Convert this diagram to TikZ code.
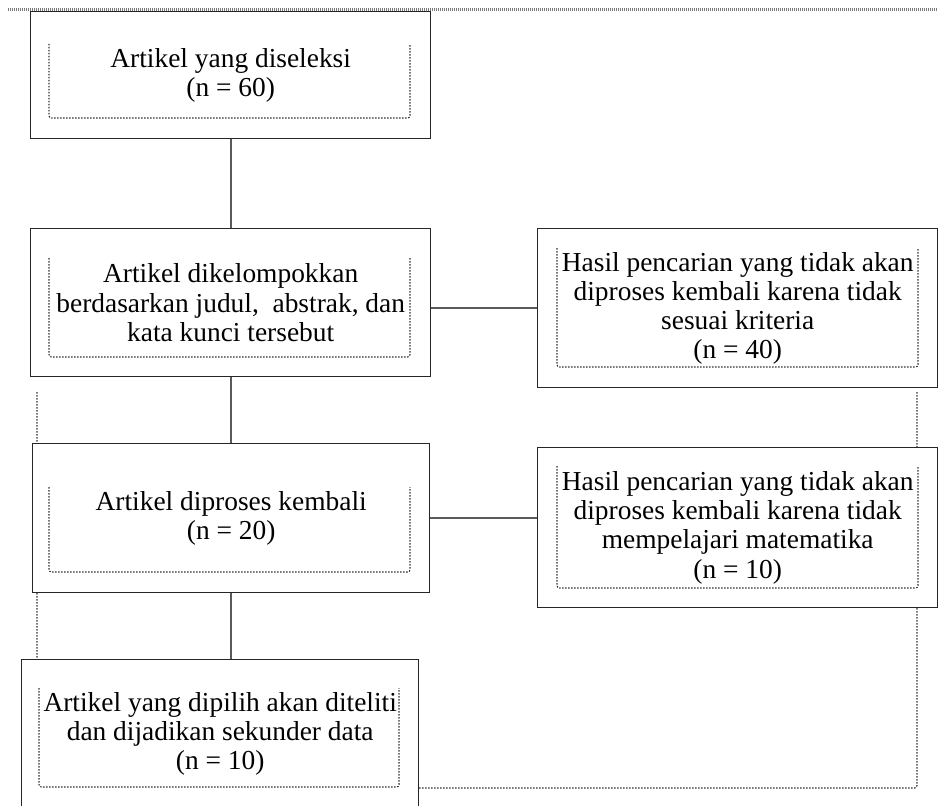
\documentclass[tikz,border=0pt]{standalone}
\usepackage{fontspec}
\setmainfont{Liberation Serif}
\usetikzlibrary{positioning,calc}
\definecolor{linkgray}{HTML}{5A5A5A}
\definecolor{rulegray}{HTML}{7A7A7A}
\tikzset{
  outerbox/.style={draw=black!85, line width=0.28mm, fill=white, align=center,
                   inner sep=0pt, font=\fontsize{15.6}{16.6}\selectfont},
  link/.style={draw=linkgray, line width=0.32mm},
  dotframe/.style={draw=black!80, line width=0.22mm,
                   dash pattern=on 0.3mm off 0.3mm, rounded corners=0.5mm}}

\begin{document}
\begin{tikzpicture}[x=0.2mm, y=-0.2mm,
     every node/.append style={anchor=north west}]
    \useasboundingbox (0,0) rectangle (938,805);
    % header rule and the large open frame behind the boxes
    \draw[rulegray, line width=0.6mm, dash pattern=on 0.25mm off 0.15mm] (8,9.5) -- (938,9.5);
    \draw[dotframe] (37,392) |- (917,788) -- (917,392);

    \node[outerbox, minimum width=80mm, minimum height=25.4mm] (b1) at (30,11)
      {Artikel yang diseleksi\\(n = 60)};
    \node[outerbox, minimum width=80mm, minimum height=29.6mm] (b2) at (30,228)
      {Artikel dikelompokkan\\berdasarkan judul,~ abstrak, dan\\kata kunci tersebut};
    \node[outerbox, minimum width=80mm, minimum height=31.8mm] (b3) at (537,228)
      {Hasil pencarian yang tidak akan\\diproses kembali karena tidak\\sesuai kriteria\\(n = 40)};
    \node[outerbox, minimum width=79.4mm, minimum height=29.8mm] (b4) at (32,443)
      {Artikel diproses kembali\\(n = 20)};
    \node[outerbox, minimum width=80mm, minimum height=32mm] (b5) at (537,447)
      {Hasil pencarian yang tidak akan\\diproses kembali karena tidak\\mempelajari matematika\\(n = 10)};
    \node[outerbox, minimum width=79.4mm, minimum height=29.6mm] (b6) at (21,659)
      {Artikel yang dipilih akan diteliti\\dan dijadikan sekunder data\\(n = 10)};

    % inner text frames, open at the top
    \draw[dotframe] (49,44) |- (410,118) -- (410,44);
    \draw[dotframe] (49,258) |- (410,357) -- (410,258);
    \draw[dotframe] (557,248) |- (918,367) -- (918,248);
    \draw[dotframe] (49,487) |- (410,572) -- (410,487);
    \draw[dotframe] (557,466) |- (918,588) -- (918,466);
    \draw[dotframe] (39,688) |- (399,787) -- (399,688);

    \draw[link] (b1.south) -- (b2.north);
    \draw[link] (b2.south) -- (b2.south |- b4.north);
    \draw[link] (b4.south) -- (b4.south |- b6.north);
    \draw[link] (b3.west -| b2.east) -- (b3.west);
    \draw[link] (b4.east) -- (b4.east -| b5.west);
\end{tikzpicture}
\end{document}
